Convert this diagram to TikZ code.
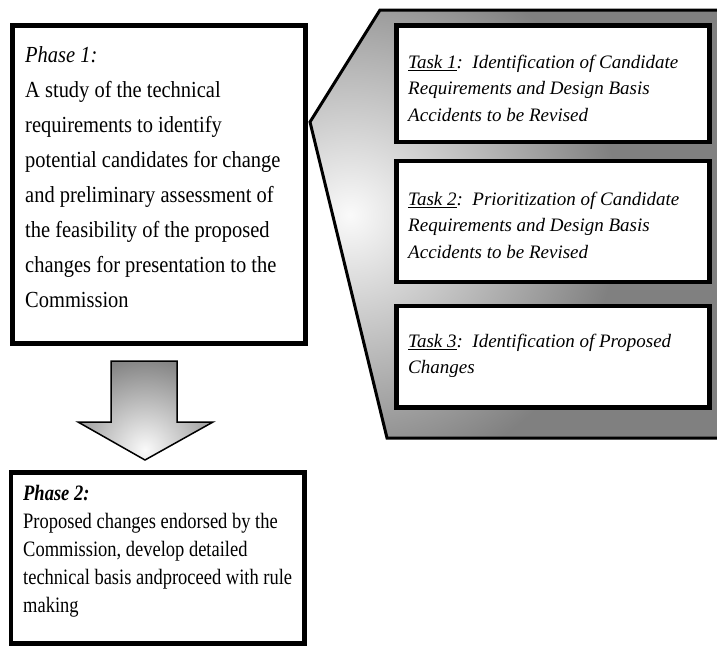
\documentclass[tikz,border=0pt]{standalone}
\usepackage{fontspec}
\setmainfont{Liberation Serif}
\newfontfamily\phaseAfont[FakeStretch=0.89]{Liberation Serif}
\newfontfamily\phaseBfont[FakeStretch=0.84]{Liberation Serif}
\newfontfamily\taskfont{Liberation Serif}
\begin{document}
\begin{tikzpicture}[x=1pt,y=-1pt,
  box/.style={draw=black, line width=4.5pt, fill=white, inner sep=0pt},
  txt/.style={anchor=north west, inner sep=0pt, align=left, text=black},
  phaseone/.style={font=\phaseAfont\fontsize{23}{35}\selectfont},
  phasetwo/.style={font=\phaseBfont\fontsize{22}{28}\selectfont},
  tasktxt/.style={font=\taskfont\itshape\fontsize{19}{26.5}\selectfont},
  edge/.style={draw=black, line width=3pt, line join=miter}]
\useasboundingbox (0,0) rectangle (717,646);

% callout shape
\coordinate (apex) at (310,122);
\coordinate (ctl) at (380,10);
\coordinate (ctr) at (720,10);
\coordinate (cbr) at (720,438);
\coordinate (cbl) at (387,438);
\begin{scope}
  \clip (apex) -- (ctl) -- (ctr) -- (cbr) -- (cbl) -- cycle;
  \fill[black!50] (apex) -- (ctl) -- (ctr) -- (cbr) -- (cbl) -- cycle;
  \shade[inner color=black!2, outer color=black!50] (350,215) circle (270);
\end{scope}
\draw[edge] (ctr) -- (ctl) -- (apex) -- (cbl) -- (cbr);

% task boxes
\node[box, minimum width=313pt, minimum height=116.5pt] (t1) at (553,83.75) {};
\node[box, minimum width=313pt, minimum height=121pt] (t2) at (553,221.5) {};
\node[box, minimum width=313pt, minimum height=101.5pt] (t3) at (553,356.75) {};

\node[txt, tasktxt] (t1txt) at (408,53) {\rule{0pt}{15pt}\underline{Task 1}:\ \ Identification of Candidate\\Requirements and Design Basis\\Accidents to be Revised};
\node[txt, tasktxt] (t2txt) at (408,190) {\rule{0pt}{15pt}\underline{Task 2}:\ \ Prioritization of Candidate\\Requirements and Design Basis\\Accidents to be Revised};
\node[txt, tasktxt] (t3txt) at (408,332) {\rule{0pt}{15pt}\underline{Task 3}:\ \ Identification of Proposed\\Changes};

% phase 1
\node[box, minimum width=293pt, minimum height=318pt] (p1) at (159,184.5) {};
\node[txt, phaseone] (p1txt) at (25,44) {\rule{0pt}{18pt}\textit{Phase 1:}\\A study of the technical\\requirements to identify\\potential candidates for change\\and preliminary assessment of\\the feasibility of the proposed\\changes for presentation to the\\Commission};

% block arrow
\coordinate (a1) at (111,361);
\coordinate (a2) at (177,361);
\coordinate (a3) at (177,422);
\coordinate (a4) at (213,422);
\coordinate (a5) at (145,460);
\coordinate (a6) at (78,422);
\coordinate (a7) at (111,422);
\begin{scope}
  \clip (a1) -- (a2) -- (a3) -- (a4) -- (a5) -- (a6) -- (a7) -- cycle;
  \fill[black!50] (a1) -- (a2) -- (a3) -- (a4) -- (a5) -- (a6) -- (a7) -- cycle;
  \shade[inner color=black!2, outer color=black!50] (145,450) circle (95);
\end{scope}
\draw[black, line width=1.5pt, line join=miter] (a1) -- (a2) -- (a3) -- (a4) -- (a5) -- (a6) -- (a7) -- cycle;

% phase 2
\node[box, minimum width=293.5pt, minimum height=171pt] (p2) at (157.75,558) {};
\node[txt, phasetwo] (p2txt) at (23,482) {\rule{0pt}{18pt}\textbf{\textit{Phase 2:}}\\Proposed changes endorsed by the\\Commission, develop detailed\\technical basis andproceed with rule\\making};
\end{tikzpicture}
\end{document}
